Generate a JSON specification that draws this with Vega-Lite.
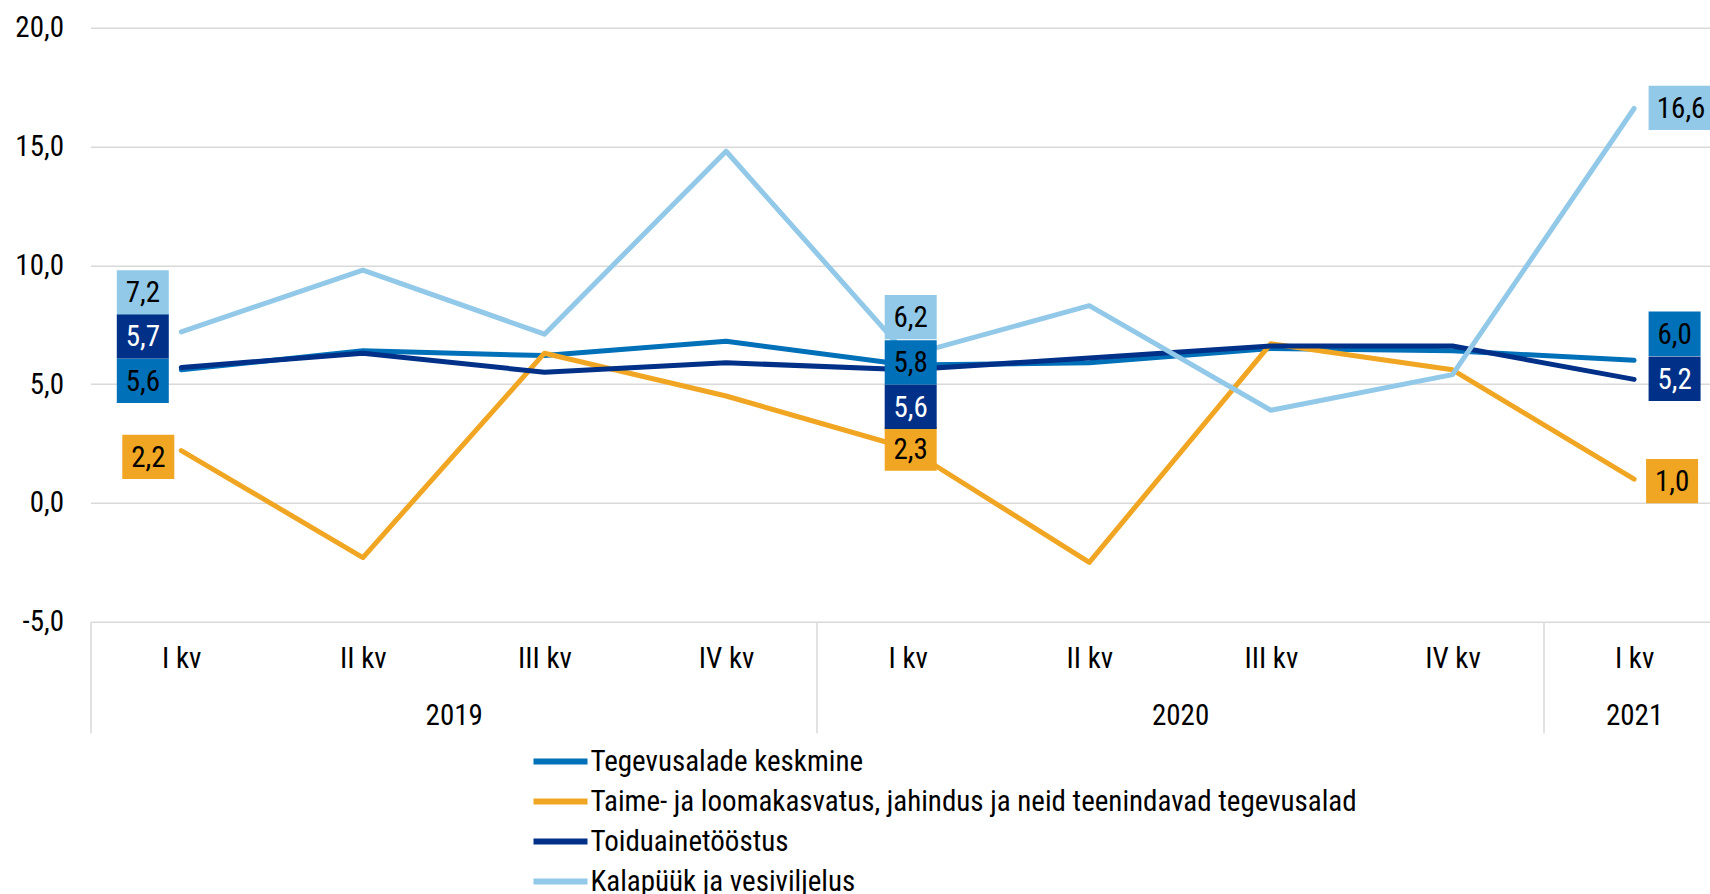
{
  "$schema": "https://vega.github.io/schema/vega-lite/v6.json",
  "width": 1619.5,
  "height": 594,
  "autosize": {"type": "none"},
  "padding": {"left": 90.5, "top": 27.7, "right": 0, "bottom": 272.3},
  "config": {
    "font": "Liberation Sans Narrow, Roboto Condensed, DejaVu Sans Condensed, Roboto",
    "view": {"stroke": null},
    "locale": {"number": {"decimal": ",", "thousands": "\u00a0", "grouping": [3], "currency": ["", " €"], "minus": "-"}},
    "axis": {"labelColor": "#000000", "title": null},
    "legend": {"labelColor": "#000000", "labelLimit": 1200}
  },
  "data": {
    "values": [
      {"i": 0, "q": "I kv", "year": "2019", "series": "Tegevusalade keskmine", "value": 5.6},
      {"i": 1, "q": "II kv", "year": "2019", "series": "Tegevusalade keskmine", "value": 6.4},
      {"i": 2, "q": "III kv", "year": "2019", "series": "Tegevusalade keskmine", "value": 6.2},
      {"i": 3, "q": "IV kv", "year": "2019", "series": "Tegevusalade keskmine", "value": 6.8},
      {"i": 4, "q": "I kv", "year": "2020", "series": "Tegevusalade keskmine", "value": 5.8},
      {"i": 5, "q": "II kv", "year": "2020", "series": "Tegevusalade keskmine", "value": 5.9},
      {"i": 6, "q": "III kv", "year": "2020", "series": "Tegevusalade keskmine", "value": 6.5},
      {"i": 7, "q": "IV kv", "year": "2020", "series": "Tegevusalade keskmine", "value": 6.4},
      {"i": 8, "q": "I kv", "year": "2021", "series": "Tegevusalade keskmine", "value": 6.0},
      {"i": 0, "q": "I kv", "year": "2019", "series": "Taime- ja loomakasvatus, jahindus ja neid teenindavad tegevusalad", "value": 2.2},
      {"i": 1, "q": "II kv", "year": "2019", "series": "Taime- ja loomakasvatus, jahindus ja neid teenindavad tegevusalad", "value": -2.3},
      {"i": 2, "q": "III kv", "year": "2019", "series": "Taime- ja loomakasvatus, jahindus ja neid teenindavad tegevusalad", "value": 6.3},
      {"i": 3, "q": "IV kv", "year": "2019", "series": "Taime- ja loomakasvatus, jahindus ja neid teenindavad tegevusalad", "value": 4.5},
      {"i": 4, "q": "I kv", "year": "2020", "series": "Taime- ja loomakasvatus, jahindus ja neid teenindavad tegevusalad", "value": 2.3},
      {"i": 5, "q": "II kv", "year": "2020", "series": "Taime- ja loomakasvatus, jahindus ja neid teenindavad tegevusalad", "value": -2.5},
      {"i": 6, "q": "III kv", "year": "2020", "series": "Taime- ja loomakasvatus, jahindus ja neid teenindavad tegevusalad", "value": 6.7},
      {"i": 7, "q": "IV kv", "year": "2020", "series": "Taime- ja loomakasvatus, jahindus ja neid teenindavad tegevusalad", "value": 5.6},
      {"i": 8, "q": "I kv", "year": "2021", "series": "Taime- ja loomakasvatus, jahindus ja neid teenindavad tegevusalad", "value": 1.0},
      {"i": 0, "q": "I kv", "year": "2019", "series": "Toiduainetööstus", "value": 5.7},
      {"i": 1, "q": "II kv", "year": "2019", "series": "Toiduainetööstus", "value": 6.3},
      {"i": 2, "q": "III kv", "year": "2019", "series": "Toiduainetööstus", "value": 5.5},
      {"i": 3, "q": "IV kv", "year": "2019", "series": "Toiduainetööstus", "value": 5.9},
      {"i": 4, "q": "I kv", "year": "2020", "series": "Toiduainetööstus", "value": 5.6},
      {"i": 5, "q": "II kv", "year": "2020", "series": "Toiduainetööstus", "value": 6.1},
      {"i": 6, "q": "III kv", "year": "2020", "series": "Toiduainetööstus", "value": 6.6},
      {"i": 7, "q": "IV kv", "year": "2020", "series": "Toiduainetööstus", "value": 6.6},
      {"i": 8, "q": "I kv", "year": "2021", "series": "Toiduainetööstus", "value": 5.2},
      {"i": 0, "q": "I kv", "year": "2019", "series": "Kalapüük ja vesiviljelus", "value": 7.2},
      {"i": 1, "q": "II kv", "year": "2019", "series": "Kalapüük ja vesiviljelus", "value": 9.8},
      {"i": 2, "q": "III kv", "year": "2019", "series": "Kalapüük ja vesiviljelus", "value": 7.1},
      {"i": 3, "q": "IV kv", "year": "2019", "series": "Kalapüük ja vesiviljelus", "value": 14.8},
      {"i": 4, "q": "I kv", "year": "2020", "series": "Kalapüük ja vesiviljelus", "value": 6.2},
      {"i": 5, "q": "II kv", "year": "2020", "series": "Kalapüük ja vesiviljelus", "value": 8.3},
      {"i": 6, "q": "III kv", "year": "2020", "series": "Kalapüük ja vesiviljelus", "value": 3.9},
      {"i": 7, "q": "IV kv", "year": "2020", "series": "Kalapüük ja vesiviljelus", "value": 5.4},
      {"i": 8, "q": "I kv", "year": "2021", "series": "Kalapüük ja vesiviljelus", "value": 16.6}
    ]
  },
  "encoding": {
    "y": {
      "field": "value",
      "type": "quantitative",
      "scale": {"domain": [-5, 20], "nice": false, "zero": false},
      "axis": {
        "values": [-5, 0, 5, 10, 15, 20],
        "format": ".1f",
        "grid": true,
        "gridColor": "#d9d9d9",
        "gridWidth": 1.5,
        "domain": false,
        "ticks": false,
        "labelPadding": 27,
        "labelFontSize": 29,
        "title": null
      }
    }
  },
  "layer": [
    {
      "mark": {"type": "line", "strokeWidth": 5, "strokeCap": "round", "strokeJoin": "round"},
      "encoding": {
        "x": {
          "field": "i",
          "type": "quantitative",
          "scale": {"domain": [-0.5, 8.418], "nice": false, "zero": false},
          "axis": {
            "orient": "bottom",
            "values": [0, 1, 2, 3, 4, 5, 6, 7, 8],
            "labelExpr": "['I kv','II kv','III kv','IV kv','I kv','II kv','III kv','IV kv','I kv'][datum.value]",
            "ticks": false,
            "domain": false,
            "grid": false,
            "labelPadding": 37,
            "labelBaseline": "middle",
            "labelFontSize": 29,
            "labelFlush": false,
            "labelOverlap": false,
            "title": null
          }
        },
        "color": {
          "field": "series",
          "type": "nominal",
          "scale": {
            "domain": ["Tegevusalade keskmine", "Taime- ja loomakasvatus, jahindus ja neid teenindavad tegevusalad", "Toiduainetööstus", "Kalapüük ja vesiviljelus"],
            "range": ["#0070b8", "#f0a623", "#003087", "#92c8e8"]
          },
          "legend": {
            "orient": "none",
            "legendX": 440,
            "legendY": 714.2,
            "direction": "vertical",
            "title": null,
            "symbolType": "stroke",
            "symbolStrokeWidth": 6,
            "symbolSize": 2916,
            "labelFontSize": 29,
            "labelOffset": 0,
            "clipHeight": 39.2,
            "rowPadding": 0,
            "padding": 0
          }
        }
      }
    },
    {
      "transform": [{"filter": "datum.i == 0 || datum.i == 4 || datum.i == 8"}],
      "mark": {
        "type": "point",
        "filled": true,
        "opacity": 1,
        "strokeWidth": 0,
        "xOffset": {"expr": "datum.i == 0 ? (substring(datum.series,0,3) == 'Tai' ? -33 : -38.5) : datum.i == 4 ? 3 : (substring(datum.series,0,3) == 'Kal' ? 45.5 : substring(datum.series,0,3) == 'Tai' ? 38 : 40.5)"},
        "yOffset": {"expr": "datum.i == 0 ? (substring(datum.series,0,3) == 'Kal' ? -39.5 : substring(datum.series,0,3) == 'Toi' ? -31.2 : substring(datum.series,0,3) == 'Teg' ? 10.9 : 6.2) : datum.i == 4 ? (substring(datum.series,0,3) == 'Kal' ? -38.4 : substring(datum.series,0,3) == 'Toi' ? 37.1 : substring(datum.series,0,3) == 'Teg' ? -2.6 : 0.3) : (substring(datum.series,0,3) == 'Teg' ? -26.6 : substring(datum.series,0,3) == 'Tai' ? 2 : -0.6)"}
      },
      "encoding": {
        "x": {
          "field": "i",
          "type": "quantitative",
          "axis": {
            "orient": "bottom",
            "values": [-0.5, 1.5, 3.5, 5.5, 7.5, 8],
            "labelExpr": "datum.value == 1.5 ? '2019' : datum.value == 5.5 ? '2020' : datum.value == 8 ? '2021' : ''",
            "ticks": true,
            "tickSize": 111,
            "tickWidth": 1.5,
            "tickColor": "#d9d9d9",
            "tickOpacity": {"condition": {"test": "datum.value == -0.5 || datum.value == 3.5 || datum.value == 7.5", "value": 1}, "value": 0},
            "domain": false,
            "grid": false,
            "labelPadding": -17,
            "labelBaseline": "middle",
            "labelFontSize": 29,
            "labelFlush": false,
            "labelOverlap": false,
            "labelBound": false,
            "title": null
          }
        },
        "fill": {
          "field": "series",
          "type": "nominal",
          "scale": {
            "domain": ["Tegevusalade keskmine", "Taime- ja loomakasvatus, jahindus ja neid teenindavad tegevusalad", "Toiduainetööstus", "Kalapüük ja vesiviljelus"],
            "range": ["#0070b8", "#f0a623", "#003087", "#92c8e8"]
          },
          "legend": null
        },
        "shape": {
          "condition": {"test": "datum.value > 10", "value": "M-1.192,-0.852L1.192,-0.852L1.192,0.852L-1.192,0.852Z"},
          "value": "M-1,-0.852L1,-0.852L1,0.852L-1,0.852Z"
        },
        "size": {"value": 2704}
      }
    },
    {
      "transform": [{"filter": "datum.i == 0 || datum.i == 4 || datum.i == 8"}],
      "mark": {
        "type": "text",
        "fontSize": 29,
        "align": "center",
        "baseline": "middle",
        "xOffset": {"expr": "datum.i == 0 ? (substring(datum.series,0,3) == 'Tai' ? -33 : -38.5) : datum.i == 4 ? 3 : (substring(datum.series,0,3) == 'Kal' ? 47 : substring(datum.series,0,3) == 'Tai' ? 38 : 40.5)"},
        "yOffset": {"expr": "1 + (datum.i == 0 ? (substring(datum.series,0,3) == 'Kal' ? -39.5 : substring(datum.series,0,3) == 'Toi' ? -31.2 : substring(datum.series,0,3) == 'Teg' ? 10.9 : 6.2) : datum.i == 4 ? (substring(datum.series,0,3) == 'Kal' ? -38.4 : substring(datum.series,0,3) == 'Toi' ? 37.1 : substring(datum.series,0,3) == 'Teg' ? -2.6 : 0.3) : (substring(datum.series,0,3) == 'Teg' ? -26.6 : substring(datum.series,0,3) == 'Tai' ? 2 : -0.6))"}
      },
      "encoding": {
        "x": {"field": "i", "type": "quantitative", "axis": null},
        "text": {"field": "value", "type": "quantitative", "format": ".1f"},
        "color": {
          "condition": {"test": "datum.series == 'Toiduainetööstus'", "value": "#ffffff"},
          "value": "#000000"
        }
      }
    }
  ],
  "resolve": {"axis": {"x": "independent"}}
}
